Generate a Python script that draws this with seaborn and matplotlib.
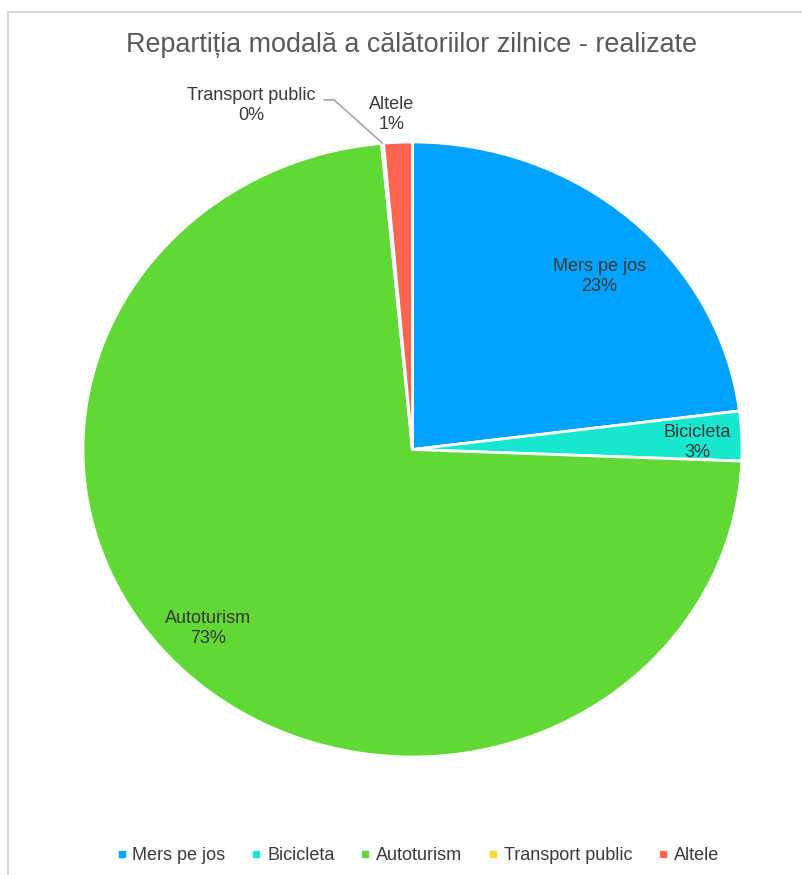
import numpy as np
import matplotlib
matplotlib.use("Agg")
import matplotlib.pyplot as plt
from matplotlib.lines import Line2D
import seaborn as sns

# Daily trips by transport mode (percent)
categories = ["Mers pe jos", "Bicicleta", "Autoturism", "Transport public", "Altele"]
shares = [23.0, 2.6, 72.9, 0.1, 1.4]
pct_labels = ["23%", "3%", "73%", "0%", "1%"]
colors = ["#00A2FF", "#16E7CF", "#61D836", "#FFD932", "#FF644E"]

sns.set_theme(style="white")
plt.rcParams["font.family"] = ["Liberation Sans", "DejaVu Sans"]

fig = plt.figure(figsize=(8.03, 8.75), dpi=100)

# frame lines along top and left edge
fig.add_artist(Line2D([8 / 803, 802 / 803], [1 - 12 / 875, 1 - 12 / 875],
                      transform=fig.transFigure, color="#d9d9d9", lw=1.5))
fig.add_artist(Line2D([8 / 803, 8 / 803], [0, 1 - 12 / 875],
                      transform=fig.transFigure, color="#d9d9d9", lw=1.5))

fig.text(0.513, 1 - 45 / 875, "Repartiția modală a călătoriilor zilnice - realizate",
         ha="center", va="center", fontsize=19.4, color="#595959")

# pie box is slightly wider than tall
ax = fig.add_axes([83 / 803, (875 - 757) / 875, 659 / 803, 615 / 875])
wedges, _ = ax.pie(shares, colors=colors, startangle=90, counterclock=False,
                   wedgeprops=dict(edgecolor="white", linewidth=2))
ax.set_aspect("auto")
ax.set_xlim(-1, 1)
ax.set_ylim(-1, 1)
ax.axis("off")

# label placement: (distance from centre, angular offset in degrees)
placement = {
    "Mers pe jos": (0.80, -3.8),
    "Bicicleta": (0.865, -1.0),
    "Autoturism": (0.85, -3.5),
}
text_kw = dict(ha="center", va="center", fontsize=13, color="#3a3a3a", linespacing=1.22)
for w, name, pct in zip(wedges, categories, pct_labels):
    mid = np.deg2rad((w.theta1 + w.theta2) / 2)
    if name in placement:
        r, off = placement[name]
        a = mid + np.deg2rad(off)
        ax.text(r * np.cos(a), r * np.sin(a), f"{name}\n{pct}", **text_kw)
    elif name == "Altele":
        ax.text(-0.062, 1.09, f"{name}\n{pct}", **text_kw)
    else:
        edge = (np.cos(mid), np.sin(mid))
        ax.plot([edge[0], -0.238, -0.269], [edge[1], 1.137, 1.137],
                color="#a6a6a6", lw=1.2, clip_on=False)
        ax.text(-0.49, 1.12, f"{name}\n{pct}", **text_kw)

handles = [plt.Line2D([0], [0], marker="s", color="none", markerfacecolor=c,
                      markeredgecolor=c, markersize=5) for c in colors]
fig.legend(handles, categories, loc="center", bbox_to_anchor=(417.5 / 803, 1 - 856 / 875),
           ncol=5, frameon=False, fontsize=13, handletextpad=0.3,
           columnspacing=1.4, handlelength=0.6, labelcolor="#3a3a3a")

fig.savefig("out.png", dpi=100)
